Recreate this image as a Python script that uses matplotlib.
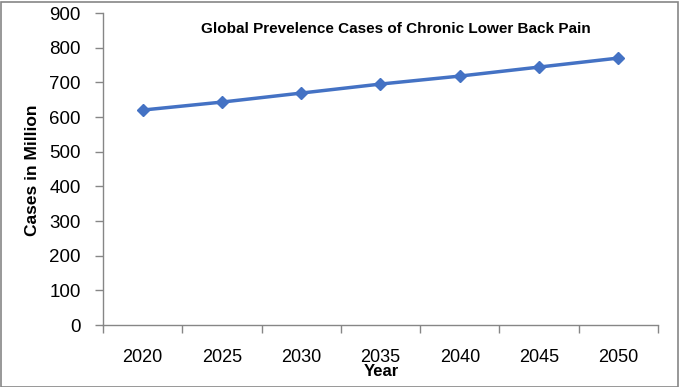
import matplotlib
matplotlib.use("Agg")
import matplotlib.pyplot as plt
from matplotlib.patches import Rectangle

years = ["2020", "2025", "2030", "2035", "2040", "2045", "2050"]
cases = [620, 643, 669, 695, 718, 744, 770]
yticks = [0, 100, 200, 300, 400, 500, 600, 700, 800, 900]

W, H = 679, 387
fig = plt.figure(figsize=(W/100, H/100), dpi=100)
ax = fig.add_axes([103/W, 1-325/H, (658-103)/W, (325-13)/H])

x = list(range(len(years)))
ax.plot(x, cases, color="#4472C4", lw=2.5, marker="D", ms=6.5, mec="#4472C4", mfc="#4472C4")
ax.set_xlim(-0.5, len(years)-0.5)
ax.set_ylim(0, 900)
ax.set_yticks(yticks)
ax.set_yticklabels([str(v) for v in yticks], fontsize=13.5, family="Liberation Sans")
ax.set_xticks(x)
ax.set_xticklabels(years, fontsize=13, family="Liberation Sans")
ax.set_xticks([i-0.5 for i in range(len(years)+1)], minor=True)
ax.tick_params(axis="x", which="major", length=0, pad=17)
ax.tick_params(axis="x", which="minor", length=6, color="#868686", width=1, direction="out")
ax.tick_params(axis="y", length=6, color="#868686", width=1, direction="out", pad=10)
for s in ["top", "right"]:
    ax.spines[s].set_visible(False)
for s in ["left", "bottom"]:
    ax.spines[s].set_color("#868686")
    ax.spines[s].set_linewidth(1)

fig.text(381/W, 1-372/H, "Year", ha="center", va="center",
         fontsize=12, fontweight="bold", family="Liberation Sans")
fig.text(33/W, 1-170/H, "Cases in Million", ha="center", va="center", rotation=90,
         fontsize=12.5, fontweight="bold", family="Liberation Sans")
fig.text(396/W, 1-29/H, "Global Prevelence Cases of Chronic Lower Back Pain", ha="center", va="center",
         fontsize=11, fontweight="bold", family="Liberation Sans")

fig.patches.append(Rectangle((0.5/W, 0.5/H), (W-2)/W, (H-2)/H, transform=fig.transFigure,
                             fill=False, edgecolor="#868686", lw=1.2))
fig.savefig("out.png", dpi=100)
